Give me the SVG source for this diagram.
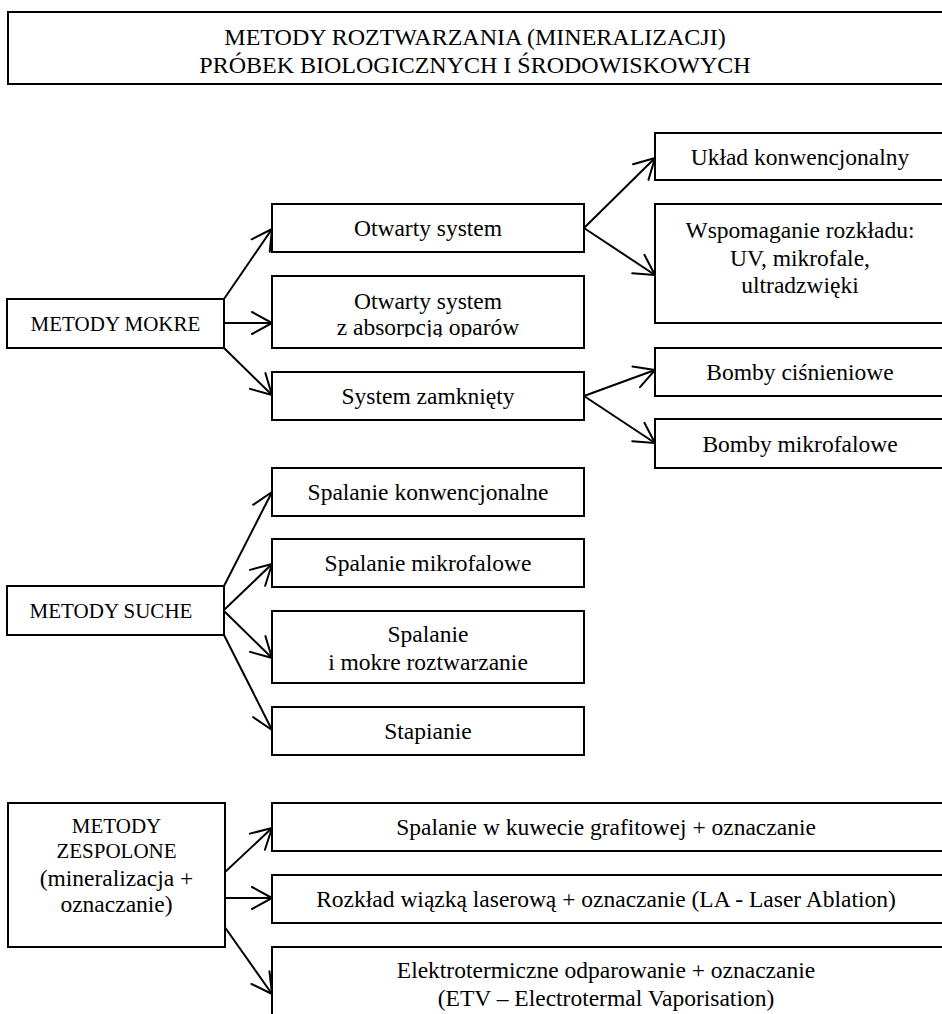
<svg xmlns="http://www.w3.org/2000/svg" width="942" height="1014" viewBox="0 0 942 1014">
<defs>
<style>
.box{fill:#fff;stroke:#000;stroke-width:2}
.t{font-family:"Liberation Serif","Times New Roman",serif;font-size:23.5px;fill:#000;text-anchor:middle;dominant-baseline:central}
.c{font-size:21px}
.title{font-family:"Liberation Serif","Times New Roman",serif;font-size:24px;fill:#000;text-anchor:middle}
.edge{fill:none;stroke:#000;stroke-width:2;marker-end:url(#ah)}
</style>
<marker id="ah" markerUnits="userSpaceOnUse" markerWidth="30" markerHeight="30" viewBox="-25 -15 30 30" refX="0" refY="0" orient="auto" overflow="visible">
<path d="M-20,-11 L0,0 L-20,11" fill="none" stroke="#000" stroke-width="2" stroke-linejoin="round" stroke-linecap="round"/>
</marker>
<clipPath id="clipAbs"><rect x="272" y="276" width="312" height="61"/></clipPath>
</defs>

<g id="title">
<rect class="box" x="8" y="12" width="936" height="72"/>
<text class="title" x="475" y="45">METODY ROZTWARZANIA (MINERALIZACJI)</text>
<text class="title" x="475" y="73">PRÓBEK BIOLOGICZNYCH I ŚRODOWISKOWYCH</text>
</g>

<g id="connectors">
<line class="edge" x1="224" y1="299" x2="272" y2="229"/>
<line class="edge" x1="224" y1="323" x2="272" y2="323"/>
<line class="edge" x1="224" y1="348" x2="272" y2="395"/>
<line class="edge" x1="584" y1="228" x2="655" y2="158"/>
<line class="edge" x1="584" y1="228" x2="655" y2="275"/>
<line class="edge" x1="584" y1="396" x2="655" y2="370"/>
<line class="edge" x1="584" y1="396" x2="655" y2="443"/>
<line class="edge" x1="224" y1="586" x2="272" y2="492"/>
<line class="edge" x1="224" y1="610" x2="272" y2="564"/>
<line class="edge" x1="224" y1="611" x2="272" y2="658"/>
<line class="edge" x1="224" y1="635" x2="272" y2="730"/>
<line class="edge" x1="224" y1="873" x2="272" y2="828"/>
<line class="edge" x1="224" y1="898" x2="272" y2="898"/>
<line class="edge" x1="224" y1="926" x2="272" y2="994"/>
</g>

<g id="metody-mokre">
<rect class="box" x="7" y="299" width="217" height="49"/>
<text class="t c" x="115.5" y="323.5">METODY MOKRE</text>
</g>
<g id="otwarty-system">
<rect class="box" x="272" y="204" width="312" height="48"/>
<text class="t" x="428" y="228">Otwarty system</text>
</g>
<g id="otwarty-system-absorpcja">
<rect class="box" x="272" y="276" width="312" height="72"/>
<text class="t" x="428" y="301">Otwarty system</text>
<text class="t" x="428" y="327" clip-path="url(#clipAbs)">z absorpcją oparów</text>
</g>
<g id="system-zamkniety">
<rect class="box" x="272" y="372" width="312" height="48"/>
<text class="t" x="428" y="396">System zamknięty</text>
</g>
<g id="uklad-konwencjonalny">
<rect class="box" x="655" y="133" width="290" height="47"/>
<text class="t" x="800" y="157">Układ konwencjonalny</text>
</g>
<g id="wspomaganie">
<rect class="box" x="655" y="204" width="290" height="119"/>
<text class="t" x="800" y="230">Wspomaganie rozkładu:</text>
<text class="t" x="800" y="257.5">UV, mikrofale,</text>
<text class="t" x="800" y="285">ultradzwięki</text>
</g>
<g id="bomby-cisnieniowe">
<rect class="box" x="655" y="348" width="290" height="48"/>
<text class="t" x="800" y="372">Bomby ciśnieniowe</text>
</g>
<g id="bomby-mikrofalowe">
<rect class="box" x="655" y="419" width="290" height="49"/>
<text class="t" x="800" y="443.5">Bomby mikrofalowe</text>
</g>

<g id="metody-suche">
<rect class="box" x="7" y="586" width="217" height="49"/>
<text class="t c" x="111" y="610.5">METODY SUCHE</text>
</g>
<g id="spalanie-konwencjonalne">
<rect class="box" x="272" y="468" width="312" height="48"/>
<text class="t" x="428" y="492">Spalanie konwencjonalne</text>
</g>
<g id="spalanie-mikrofalowe">
<rect class="box" x="272" y="539" width="312" height="48"/>
<text class="t" x="428" y="563">Spalanie mikrofalowe</text>
</g>
<g id="spalanie-mokre">
<rect class="box" x="272" y="611" width="312" height="72"/>
<text class="t" x="428" y="634">Spalanie</text>
<text class="t" x="428" y="662">i mokre roztwarzanie</text>
</g>
<g id="stapianie">
<rect class="box" x="272" y="707" width="312" height="48"/>
<text class="t" x="428" y="731">Stapianie</text>
</g>

<g id="metody-zespolone">
<rect class="box" x="8" y="803" width="217" height="144"/>
<text class="t c" x="116.5" y="826">METODY</text>
<text class="t c" x="116.5" y="851">ZESPOLONE</text>
<text class="t" x="116.5" y="878">(mineralizacja +</text>
<text class="t" x="116.5" y="904">oznaczanie)</text>
</g>
<g id="kuweta">
<rect class="box" x="272" y="803" width="672" height="48"/>
<text class="t" x="606" y="827">Spalanie w kuwecie grafitowej + oznaczanie</text>
</g>
<g id="laser">
<rect class="box" x="272" y="875" width="672" height="48"/>
<text class="t" x="606" y="899">Rozkład wiązką laserową + oznaczanie (LA - Laser Ablation)</text>
</g>
<g id="etv">
<rect class="box" x="272" y="947" width="672" height="80"/>
<text class="t" x="606" y="970">Elektrotermiczne odparowanie + oznaczanie</text>
<text class="t" x="606" y="998">(ETV – Electrotermal Vaporisation)</text>
</g>
</svg>
